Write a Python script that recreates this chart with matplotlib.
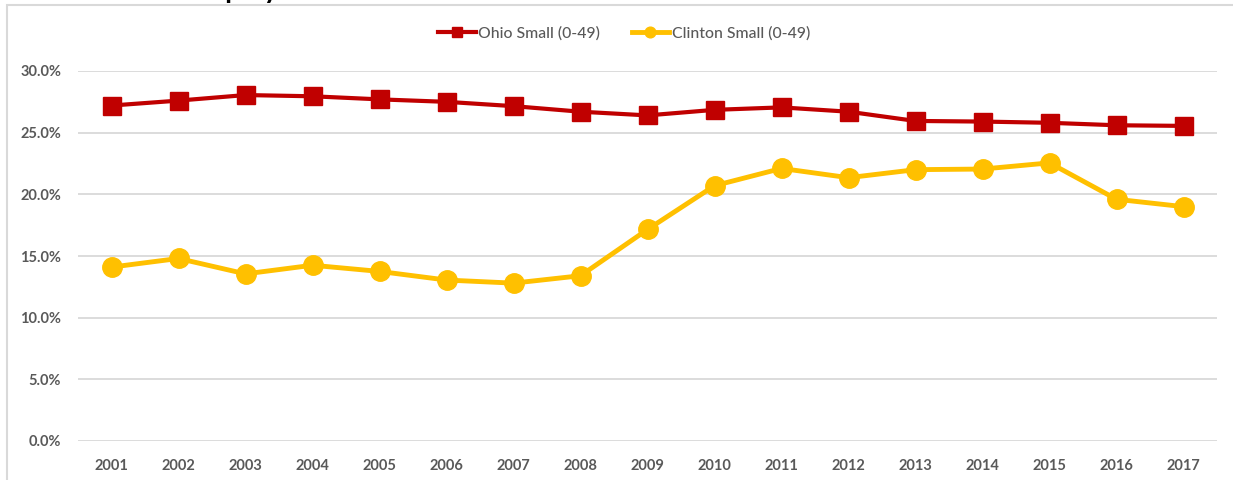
import matplotlib
matplotlib.use("Agg")
import matplotlib.pyplot as plt
from matplotlib.patches import Rectangle
from matplotlib.ticker import FuncFormatter, MultipleLocator

years = ["2001", "2002", "2003", "2004", "2005", "2006", "2007", "2008", "2009",
         "2010", "2011", "2012", "2013", "2014", "2015", "2016", "2017"]
ohio_small = [27.2, 27.6, 28.05, 27.95, 27.7, 27.5, 27.15, 26.7, 26.4,
              26.85, 27.05, 26.7, 25.95, 25.9, 25.8, 25.6, 25.55]
clinton_small = [14.1, 14.8, 13.55, 14.25, 13.75, 13.05, 12.8, 13.4, 17.15,
                 20.7, 22.1, 21.35, 22.0, 22.05, 22.55, 19.6, 19.0]
series_names = ["Ohio Small (0-49)", "Clinton Small (0-49)"]

W, H = 1233, 480
fig = plt.figure(figsize=(W / 100, H / 100), dpi=100)

# outer chart frame
fig.patches.append(Rectangle((7 / W, -0.1), 1.2, (H - 5) / H + 0.1,
                             transform=fig.transFigure, fill=False,
                             edgecolor="#D9D9D9", linewidth=1.5))
# clipped title above the frame
fig.text(187 / W, 1 + 2.5 / H, "Employment", fontsize=20, fontweight="bold",
         family="Lato", color="black", ha="left", va="baseline")

left, right, top, bottom = 78, 1217, 71, 441
ax = fig.add_axes([left / W, (H - bottom) / H, (right - left) / W, (bottom - top) / H])

x = list(range(len(years)))
ax.plot(x, ohio_small, color="#C00000", linewidth=3.0, marker="s", markersize=13.5,
        label=series_names[0], clip_on=False, zorder=3)
ax.plot(x, clinton_small, color="#FFC000", linewidth=3.5, marker="o", markersize=14,
        label=series_names[1], clip_on=False, zorder=3)

ax.set_xlim(-0.5, len(years) - 0.5)
ax.set_ylim(0, 30)
ax.yaxis.set_major_locator(MultipleLocator(5))
ax.yaxis.set_major_formatter(FuncFormatter(lambda v, p: f"{v:.1f}%"))
ax.set_xticks(x)
ax.set_xticklabels(years)
ax.grid(axis="y", color="#D9D9D9", linewidth=1.3)
ax.set_axisbelow(True)
for s in ax.spines.values():
    s.set_visible(False)
ax.tick_params(length=0, colors="#595959", labelsize=10.5, pad=12)
ax.tick_params(axis="x", pad=13)
for lab in ax.get_xticklabels() + ax.get_yticklabels():
    lab.set_family("Lato")
    lab.set_fontweight("bold")

leg = fig.legend(loc="center", bbox_to_anchor=(624 / W, 1 - 33 / H), ncol=2,
                 frameon=False, prop={"family": "Lato", "size": 11.3, "weight": "medium"},
                 markerscale=0.55, handlelength=2.4, columnspacing=2.0,
                 handletextpad=0.15)
for t in leg.get_texts():
    t.set_color("#595959")

fig.savefig("out.png", dpi=100)
